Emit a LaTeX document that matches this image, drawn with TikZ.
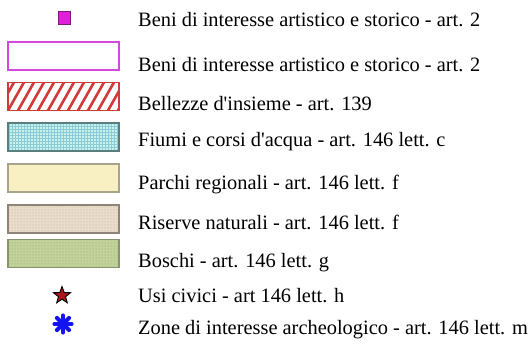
\documentclass[tikz,border=0pt]{standalone}
\usepackage{fontspec}
\setmainfont{Liberation Serif}
\usepackage{tikz}
\usetikzlibrary{patterns,shapes.geometric,calc}
\definecolor{magfill}{HTML}{E020D8}
\definecolor{magdark}{HTML}{7A1A7A}
\definecolor{magline}{HTML}{D448E0}
\definecolor{hatchred}{HTML}{D23A3A}
\definecolor{cyanfill}{HTML}{C6F2EE}
\definecolor{gridblue}{HTML}{8CCAD6}
\definecolor{cyanedge}{HTML}{5A7E7E}
\definecolor{yelfill}{HTML}{F8F0C2}
\definecolor{yeledge}{HTML}{A8A48C}
\definecolor{beigefill}{HTML}{EADCCB}
\definecolor{beigedot}{HTML}{B9A596}
\definecolor{beigeedge}{HTML}{8E8478}
\definecolor{greenfill}{HTML}{C2D29A}
\definecolor{greendot}{HTML}{8CA464}
\definecolor{greenedge}{HTML}{86966C}
\definecolor{starred}{HTML}{A8161C}
\definecolor{zoneblue}{HTML}{1414F0}

\begin{document}
\begin{tikzpicture}[x=1pt, y=-1pt,
  swatch/.style={draw, line width=1.1pt, minimum width=111pt,
    minimum height=28pt, inner sep=0pt},
  entry/.style={anchor=base west, inner sep=0pt,
    font=\fontsize{20.4}{24}\selectfont},
  hatched/.style={swatch, draw=hatchred, fill=white, path picture={
      \foreach \k in {-3,...,11}
        \draw[hatchred, line width=2.6pt]
          ($(path picture bounding box.south west)+(\k*10,0)$) -- ++(17,-30);
    }},
  dotted/.style={swatch, pattern=dots}
]
  \useasboundingbox (0,0) rectangle (530,348);

  % legend symbols
  \node[draw=magdark, fill=magfill, line width=0.8pt, minimum width=12pt,
    minimum height=13pt, inner sep=0pt] (beni) at (64,17.5) {};
  \node[swatch, draw=magline, line width=2pt, fill=white] (beniarea) at (63.5,56) {};
  \node[hatched] (bellezze) at (63.5,96.5) {};
  \node[swatch, draw=cyanedge, preaction={fill=cyanfill}, pattern=grid,
    pattern color=gridblue] (fiumi) at (63.5,137) {};
  \node[swatch, draw=yeledge, fill=yelfill] (parchi) at (63.5,178) {};
  \node[dotted, draw=beigeedge, preaction={fill=beigefill},
    pattern color=beigedot] (riserve) at (63.5,219) {};
  \node[dotted, draw=greenedge, preaction={fill=greenfill},
    pattern color=greendot] (boschi) at (63.5,253.5) {};
  \node[star, star points=5, star point ratio=2.4, draw=black, fill=starred,
    line width=0.9pt, minimum size=18pt, inner sep=0pt] (usi) at (62,295.5) {};
  \node[minimum size=22pt, inner sep=0pt, path picture={
      \foreach \a in {0,45,90,135}
        \draw[zoneblue, line width=4.2pt, line cap=round]
          (path picture bounding box.center) ++(\a:8.5pt) -- ++(\a+180:17pt);
    }] (zone) at (63,324) {};

  % legend texts
  \node[entry] (tbeni) at (138,27) {Beni di interesse artistico e storico - art. 2};
  \node[entry] (tbeniarea) at (138,71) {Beni di interesse artistico e storico - art. 2};
  \node[entry] (tbellezze) at (138,110) {Bellezze d\textquotesingle insieme - art. 139};
  \node[entry] (tfiumi) at (138,146) {Fiumi e corsi d\textquotesingle acqua - art. 146 lett. c};
  \node[entry] (tparchi) at (138,189) {Parchi regionali - art. 146 lett. f};
  \node[entry] (triserve) at (138,229) {Riserve naturali - art. 146 lett. f};
  \node[entry] (tboschi) at (138,267) {Boschi - art. 146 lett. g};
  \node[entry] (tusi) at (138,302) {Usi civici - art 146 lett. h};
  \node[entry] (tzone) at (138,334) {Zone di interesse archeologico - art. 146 lett. m};
\end{tikzpicture}
\end{document}
